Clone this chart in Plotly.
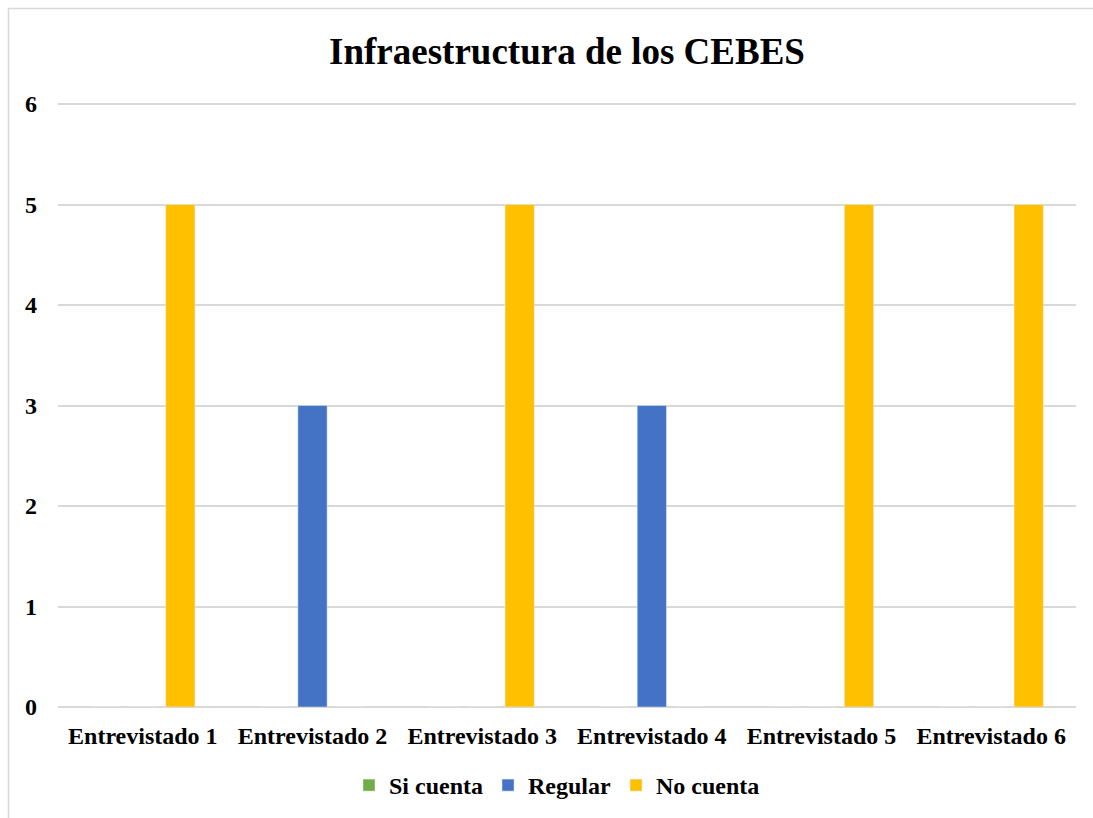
import plotly.graph_objects as go

categories = ["Entrevistado 1", "Entrevistado 2", "Entrevistado 3",
              "Entrevistado 4", "Entrevistado 5", "Entrevistado 6"]
si_cuenta = [0, 0, 0, 0, 0, 0]
regular = [0, 3, 0, 3, 0, 0]
no_cuenta = [5, 0, 5, 0, 5, 5]
y_ticks = [0, 1, 2, 3, 4, 5, 6]

W, H = 1093, 818
L, R, T, B = 58, 1076, 102, 707
pw, ph = R - L, B - T

def px_x(p):
    return (p - L) / pw

def px_y(p):
    return (B - p) / ph

FONT = "Liberation Serif"

fig = go.Figure()
fig.add_trace(go.Bar(name="Si cuenta", x=categories, y=si_cuenta, marker_color="#70AD47"))
fig.add_trace(go.Bar(name="Regular", x=categories, y=regular, marker_color="#4472C4"))
fig.add_trace(go.Bar(name="No cuenta", x=categories, y=no_cuenta, marker_color="#FFC000"))

fig.update_layout(
    width=W, height=H,
    margin=dict(l=L, r=W - R, t=T, b=H - B, autoexpand=False),
    paper_bgcolor="white", plot_bgcolor="white",
    barmode="group", bargap=0.337, bargroupgap=0.22,
    font=dict(family=FONT, size=24, color="black"),
    title=dict(text="<b>Infraestructura de los CEBES</b>",
               font=dict(family=FONT, size=37, color="black"),
               x=0.5, xanchor="center", xref="paper",
               y=1 - 51 / H, yanchor="middle", yref="container"),
    showlegend=True,
    legend=dict(orientation="h", x=px_x(557), xanchor="center",
                y=1 - 763 / H, yanchor="top", yref="container",
                font=dict(family=FONT, size=24, color="black", weight="bold"),
                traceorder="normal", itemclick=False),
    xaxis=dict(showgrid=False, showline=False, ticks="", automargin=False,
               tickfont=dict(family=FONT, size=24, color="black", weight="bold"),
               ticklabelstandoff=12),
    yaxis=dict(range=[0, 6.02], tickvals=y_ticks, showgrid=True, automargin=False,
               gridcolor="#D9D9D9", gridwidth=1.5,
               zeroline=True, zerolinecolor="#D9D9D9", zerolinewidth=1.5,
               showline=False, ticks="",
               tickfont=dict(family=FONT, size=24, color="black", weight="bold"),
               ticklabelstandoff=20),
    shapes=[dict(type="rect", xref="paper", yref="paper",
                 x0=px_x(8.5), x1=px_x(1110), y0=px_y(840), y1=px_y(8.5),
                 line=dict(color="#D9D9D9", width=1.5), fillcolor="rgba(0,0,0,0)",
                 layer="below")],
)

fig.write_html("out.html",
               config={"displayModeBar": False},
               post_script="document.body.style.margin='0';document.body.style.overflow='hidden';")
